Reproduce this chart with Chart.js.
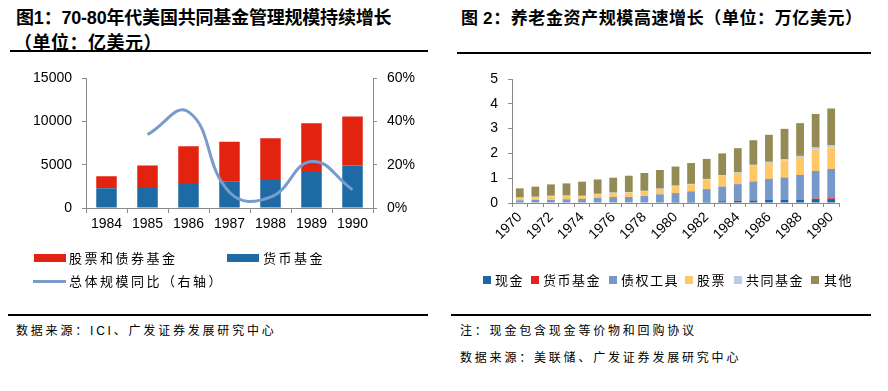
<!DOCTYPE html>
<html><head><meta charset="utf-8">
<script src="https://cdn.jsdelivr.net/npm/chart.js@4.4.0/dist/chart.umd.min.js"></script>
<style>
html,body{margin:0;padding:0;background:#fff;}
body{width:888px;height:391px;position:relative;overflow:hidden;font-family:"Noto Sans CJK SC",sans-serif;color:#000;}
.abs{position:absolute;white-space:nowrap;}
.t{font-weight:bold;line-height:20px;}
.lat{font-family:"Liberation Sans",Arial,sans-serif;}
.rule{position:absolute;height:2px;background:#000;}
.src{font-size:12px;line-height:16px;letter-spacing:2.8px;}
.leg{font-size:13px;line-height:16px;letter-spacing:2.5px;}
.sw{position:absolute;}
canvas{position:absolute;}
</style></head>
<body>
<div class="abs t" style="left:16px;top:6px;font-size:18px;letter-spacing:-0.2px;">图<span class="lat">1</span>：<span class="lat">70-80</span>年代美国共同基金管理规模持续增长</div>
<div class="abs t" style="left:14px;top:31px;font-size:18px;letter-spacing:0.5px;">（单位：亿美元）</div>
<div class="rule" style="left:10px;top:50px;width:418px;"></div>

<div class="abs t" style="left:461px;top:7px;font-size:17px;letter-spacing:0.6px;">图 <span class="lat">2</span>：养老金资产规模高速增长（单位：万亿美元）</div>
<div class="rule" style="left:457px;top:52px;width:414px;"></div>

<canvas id="c1" width="444" height="180" style="left:0;top:60px;width:444px;height:180px;"></canvas>
<canvas id="c2" width="444" height="200" style="left:444px;top:60px;width:444px;height:200px;"></canvas>

<!-- left legend -->
<div class="sw" style="left:34px;top:254px;width:32px;height:8px;background:#E2230F;"></div>
<div class="abs leg" style="left:69px;top:250px;">股票和债券基金</div>
<div class="sw" style="left:227px;top:254px;width:32px;height:8px;background:#1D6AA5;"></div>
<div class="abs leg" style="left:263px;top:250px;">货币基金</div>
<div class="sw" style="left:33px;top:280px;width:33px;height:3px;background:#7A9CCB;"></div>
<div class="abs leg" style="left:69px;top:273px;">总体规模同比（右轴）</div>

<!-- right legend -->
<div class="sw" style="left:483px;top:276px;width:8px;height:8px;background:#1F64A0;"></div>
<div class="abs leg" style="left:495px;top:272px;letter-spacing:1.5px;">现金</div>
<div class="sw" style="left:531px;top:276px;width:8px;height:8px;background:#E3241B;"></div>
<div class="abs leg" style="left:543px;top:272px;letter-spacing:1.5px;">货币基金</div>
<div class="sw" style="left:609px;top:276px;width:8px;height:8px;background:#7699C9;"></div>
<div class="abs leg" style="left:621px;top:272px;letter-spacing:1.5px;">债权工具</div>
<div class="sw" style="left:685px;top:276px;width:8px;height:8px;background:#FFC765;"></div>
<div class="abs leg" style="left:697px;top:272px;letter-spacing:1.5px;">股票</div>
<div class="sw" style="left:734px;top:276px;width:8px;height:8px;background:#B8CCE4;"></div>
<div class="abs leg" style="left:746px;top:272px;letter-spacing:1.5px;">共同基金</div>
<div class="sw" style="left:811px;top:276px;width:8px;height:8px;background:#948A54;"></div>
<div class="abs leg" style="left:824px;top:272px;letter-spacing:1.5px;">其他</div>

<div class="rule" style="left:8px;top:314px;width:420px;"></div>
<div class="rule" style="left:451px;top:314px;width:420px;"></div>
<div class="abs src" style="left:16px;top:322px;">数据来源：<span class="lat">ICI</span>、广发证券发展研究中心</div>
<div class="abs src" style="left:460px;top:322px;">注：现金包含现金等价物和回购协议</div>
<div class="abs src" style="left:460px;top:349px;">数据来源：美联储、广发证券发展研究中心</div>

<script>
// ---- Figure 1 data (亿美元) ----
const fundYears = ['1984','1985','1986','1987','1988','1989','1990'];
const moneyMarketFunds = [2300, 2420, 2880, 3100, 3370, 4280, 4920];
const stockBondFunds = [1370, 2500, 4280, 4580, 4700, 5530, 5680];
const totalGrowthPct = [null, 34, 44.5, 7.3, 5, 21.5, 8.5];
const fundAxisTicks = [0, 5000, 10000, 15000];
const growthAxisTicks = [0, 20, 40, 60];

// ---- Figure 2 data (万亿美元) ----
const pensionYears = ['1970','1971','1972','1973','1974','1975','1976','1977','1978','1979','1980','1981','1982','1983','1984','1985','1986','1987','1988','1989','1990'];
const pensionTickLabels = ['1970','1972','1974','1976','1978','1980','1982','1984','1986','1988','1990'];
const cash        = [0.02,0.02,0.02,0.02,0.02,0.02,0.02,0.02,0.02,0.03,0.04,0.04,0.05,0.07,0.08,0.10,0.12,0.12,0.12,0.16,0.16];
const moneyFunds  = [0,0,0,0,0,0,0,0,0,0,0.01,0.01,0.01,0.01,0.01,0.01,0.02,0.02,0.02,0.02,0.03];
const bonds       = [0.09,0.10,0.10,0.13,0.14,0.18,0.22,0.22,0.26,0.32,0.35,0.42,0.50,0.58,0.67,0.76,0.83,0.89,0.99,1.11,1.18];
const stocks      = [0.09,0.11,0.15,0.13,0.11,0.15,0.16,0.18,0.19,0.21,0.28,0.28,0.38,0.44,0.45,0.63,0.65,0.69,0.72,0.87,0.87];
const mutualFunds = [0.02,0.02,0.02,0.02,0.02,0.02,0.02,0.02,0.02,0.02,0.02,0.02,0.03,0.03,0.03,0.04,0.04,0.04,0.05,0.08,0.08];
const others      = [0.37,0.41,0.46,0.49,0.57,0.58,0.60,0.66,0.72,0.75,0.77,0.84,0.81,0.87,0.97,0.99,1.09,1.23,1.32,1.35,1.49];
const pensionAxisTicks = [0,1,2,3,4,5];

Chart.defaults.font.family = '"Liberation Sans", Arial, sans-serif';
Chart.defaults.color = '#000';
const axisGray = '#8a8a8a';

function setTicks(arr){ return s => { s.ticks = arr.map(v => ({value: v})); }; }

new Chart(document.getElementById('c1'), {
  type: 'bar',
  data: {
    labels: fundYears,
    datasets: [
      {type:'line', label:'总体规模同比（右轴）', data: totalGrowthPct, yAxisID:'y1', borderColor:'#7A9CCB', borderWidth:3, pointRadius:0, tension:0.45, fill:false, order:0},
      {label:'货币基金', data: moneyMarketFunds, backgroundColor:'#1D6AA5', yAxisID:'y', order:1, barPercentage:0.5, categoryPercentage:1},
      {label:'股票和债券基金', data: stockBondFunds, backgroundColor:'#E2230F', yAxisID:'y', order:1, barPercentage:0.5, categoryPercentage:1}
    ]
  },
  options: {
    responsive:false, animation:false, devicePixelRatio:1,
    layout:{padding:{top:16,left:0,right:0,bottom:0}},
    plugins:{legend:{display:false}, tooltip:{enabled:false}},
    scales:{
      x:{stacked:true, offset:true,
         grid:{offset:true, drawOnChartArea:false, drawTicks:true, tickLength:5, color:axisGray},
         border:{display:true, color:axisGray},
         ticks:{font:{size:14}, padding:3, maxRotation:0, autoSkip:false},
         afterFit: s => { s.height = 32; }},
      y:{position:'left', stacked:true, min:0, max:15000,
         grid:{drawOnChartArea:false, drawTicks:true, tickLength:4, color:axisGray},
         border:{display:true, color:axisGray},
         ticks:{font:{size:14}, padding:10, callback: v => String(v)},
         afterBuildTicks: setTicks(fundAxisTicks),
         afterFit: s => { s.width = 86; }},
      y1:{position:'right', min:0, max:60,
         grid:{drawOnChartArea:false, drawTicks:true, tickLength:4, color:axisGray},
         border:{display:true, color:axisGray},
         ticks:{font:{size:14}, padding:10, callback: v => v + '%'},
         afterBuildTicks: setTicks(growthAxisTicks),
         afterFit: s => { s.width = 71; }}
    }
  }
});

const bp = {barPercentage:0.5, categoryPercentage:1};
new Chart(document.getElementById('c2'), {
  type: 'bar',
  data: {
    labels: pensionYears,
    datasets: [
      Object.assign({label:'现金', data:cash, backgroundColor:'#1F64A0'}, bp),
      Object.assign({label:'货币基金', data:moneyFunds, backgroundColor:'#E3241B'}, bp),
      Object.assign({label:'债权工具', data:bonds, backgroundColor:'#7699C9'}, bp),
      Object.assign({label:'股票', data:stocks, backgroundColor:'#FFC765'}, bp),
      Object.assign({label:'共同基金', data:mutualFunds, backgroundColor:'#B8CCE4'}, bp),
      Object.assign({label:'其他', data:others, backgroundColor:'#948A54'}, bp)
    ]
  },
  options: {
    responsive:false, animation:false, devicePixelRatio:1,
    layout:{padding:{top:19,left:0,right:49,bottom:0}},
    plugins:{legend:{display:false}, tooltip:{enabled:false}},
    scales:{
      x:{stacked:true, offset:true,
         grid:{offset:true, drawOnChartArea:false, drawTicks:true, tickLength:4, color:axisGray},
         border:{display:true, color:axisGray},
         ticks:{font:{size:14}, padding:2, minRotation:45, maxRotation:45, autoSkip:false,
                callback:(v,i) => pensionTickLabels.includes(pensionYears[i]) ? pensionYears[i] : ''},
         afterFit: s => { s.height = 57; }},
      y:{stacked:true, position:'left', min:0, max:5,
         grid:{drawOnChartArea:false, drawTicks:true, tickLength:4, color:axisGray},
         border:{display:true, color:axisGray},
         ticks:{font:{size:14}, padding:10},
         afterBuildTicks: setTicks(pensionAxisTicks),
         afterFit: s => { s.width = 68; }}
    }
  }
});
</script>
</body></html>
